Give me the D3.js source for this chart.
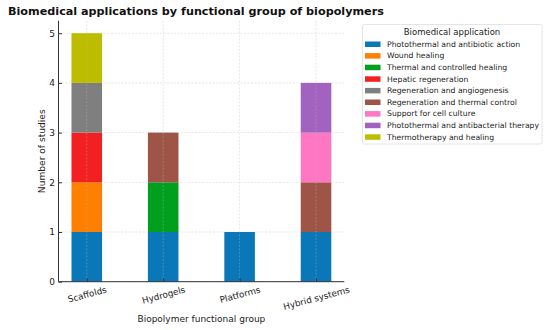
<!DOCTYPE html>
<html><head><meta charset="utf-8">
<script src="https://cdn.jsdelivr.net/npm/d3@7"></script>
<style>body{margin:0;background:#fff;font-family:"DejaVu Sans",sans-serif}</style>
</head><body><svg id="c" width="550" height="330"></svg>
<script>
const categories = ["Scaffolds","Hydrogels","Platforms","Hybrid systems"];
const seriesNames = ["Photothermal and antibiotic action","Wound healing","Thermal and controlled healing","Hepatic regeneration","Regeneration and angiogenesis","Regeneration and thermal control","Support for cell culture","Photothermal and antibacterial therapy","Thermotherapy and healing"];
const photothermalAntibiotic = [1,1,1,1];
const woundHealing = [1,0,0,0];
const thermalControlled = [0,1,0,0];
const hepatic = [1,0,0,0];
const regenAngio = [1,0,0,0];
const regenThermal = [0,1,0,1];
const cellCulture = [0,0,0,1];
const photothermalAntibacterial = [0,0,0,1];
const thermotherapy = [1,0,0,0];
const yTicks = [0,1,2,3,4,5];
const colors = ["#0a78b8","#ff7f00","#00a01e","#f22020","#7f7f7f","#9e5548","#ff76c3","#a263c0","#bdbd00"];

const seriesValues = [photothermalAntibiotic,woundHealing,thermalControlled,hepatic,regenAngio,regenThermal,cellCulture,photothermalAntibacterial,thermotherapy];
const rows = categories.map((c,i)=>{const r={cat:c}; seriesNames.forEach((s,j)=>r[s]=seriesValues[j][i]); return r;});
const stacked = d3.stack().keys(seriesNames)(rows);

const svg = d3.select("#c");
const L=58.5, R=344.3, T=20.8, B=281.7;
const x = d3.scaleLinear().domain([-0.37,3.37]).range([L,R]);
const y = d3.scaleLinear().domain([0,5.25]).range([B,T]);
const bw = 0.4;

// title
svg.append("text").attr("x",8).attr("y",15).attr("font-size",11.2).attr("font-weight","bold").attr("fill","#111").text("Biomedical applications by functional group of biopolymers");

// horizontal grid
svg.append("g").selectAll("line").data(yTicks).join("line")
  .attr("x1",L).attr("x2",R).attr("y1",d=>y(d)).attr("y2",d=>y(d))
  .attr("stroke","#ccc").attr("stroke-width",0.6).attr("stroke-dasharray","2,1.5").attr("opacity",0.8);

// bars
svg.append("g").selectAll("g").data(stacked).join("g").attr("fill",(d,i)=>colors[i])
  .selectAll("rect").data(d=>d.filter(p=>p[1]-p[0]>0)).join("rect")
  .attr("x",(d)=>x(categories.indexOf(d.data.cat)-bw/2))
  .attr("width",x(bw)-x(0))
  .attr("y",d=>y(d[1])).attr("height",d=>y(d[0])-y(d[1]));

// vertical grid (over bars, translucent)
svg.append("g").selectAll("line").data(categories).join("line")
  .attr("x1",(d,i)=>x(i)).attr("x2",(d,i)=>x(i)).attr("y1",T).attr("y2",B)
  .attr("stroke","#bbb").attr("stroke-width",0.6).attr("stroke-dasharray","2,1.5").attr("opacity",0.6);

// axes (ticks pointing inward)
const yAxis = d3.axisLeft(y).tickValues(yTicks).tickSize(0).tickPadding(3.5).tickFormat(d3.format("d"));
const gy = svg.append("g").attr("transform",`translate(${L},0)`).call(yAxis);
gy.select(".domain").attr("d",`M0,${T}V${B}`).attr("stroke","#333");
gy.selectAll(".tick line").attr("x2",3.5).attr("stroke","#333");
gy.selectAll("text").attr("font-size",9).attr("font-family","DejaVu Sans").attr("fill","#222");

const xAxis = d3.axisBottom(x).tickValues([0,1,2,3]).tickSize(0).tickFormat(i=>categories[i]);
const gx = svg.append("g").attr("transform",`translate(0,${B})`).call(xAxis);
gx.select(".domain").attr("d",`M${L},0H${R}`).attr("stroke","#333");
gx.selectAll(".tick line").attr("y2",-3.5).attr("stroke","#333");
const ang = 15*Math.PI/180;
gx.selectAll("text").attr("font-size",8.8).attr("font-family","DejaVu Sans").attr("fill","#222")
  .attr("text-anchor","middle").attr("dy","0.32em").attr("y",0)
  .each(function(){
    const w = this.getComputedTextLength();
    const h = 8.8*0.95;
    const cy = 3.8 + (w*Math.sin(ang) + h*Math.cos(ang))/2;
    d3.select(this).attr("transform",`translate(0,${cy}) rotate(-15)`);
  });

// axis labels
svg.append("text").attr("transform",`translate(${44.5},${(T+B)/2}) rotate(-90)`).attr("text-anchor","middle")
  .attr("font-size",9.1).attr("fill","#222").text("Number of studies");
svg.append("text").attr("x",(L+R)/2).attr("y",322).attr("text-anchor","middle")
  .attr("font-size",9).attr("fill","#222").text("Biopolymer functional group");

// legend
const lg = svg.append("g");
lg.append("rect").attr("x",362.5).attr("y",24.5).attr("width",179.5).attr("height",119.5).attr("rx",2)
  .attr("fill","#fff").attr("stroke","#ddd").attr("stroke-width",0.8);
lg.append("text").attr("x",452).attr("y",35).attr("text-anchor","middle").attr("font-size",8.5).attr("fill","#222").text("Biomedical application");
seriesNames.forEach((s,i)=>{
  const yy = 44 + i*11.6;
  lg.append("rect").attr("x",365).attr("y",yy-2.5).attr("width",15.5).attr("height",5.5).attr("fill",colors[i]);
  lg.append("text").attr("x",387).attr("y",yy+2.8).attr("font-size",7.7).attr("fill","#222").text(s);
});
</script></body></html>
